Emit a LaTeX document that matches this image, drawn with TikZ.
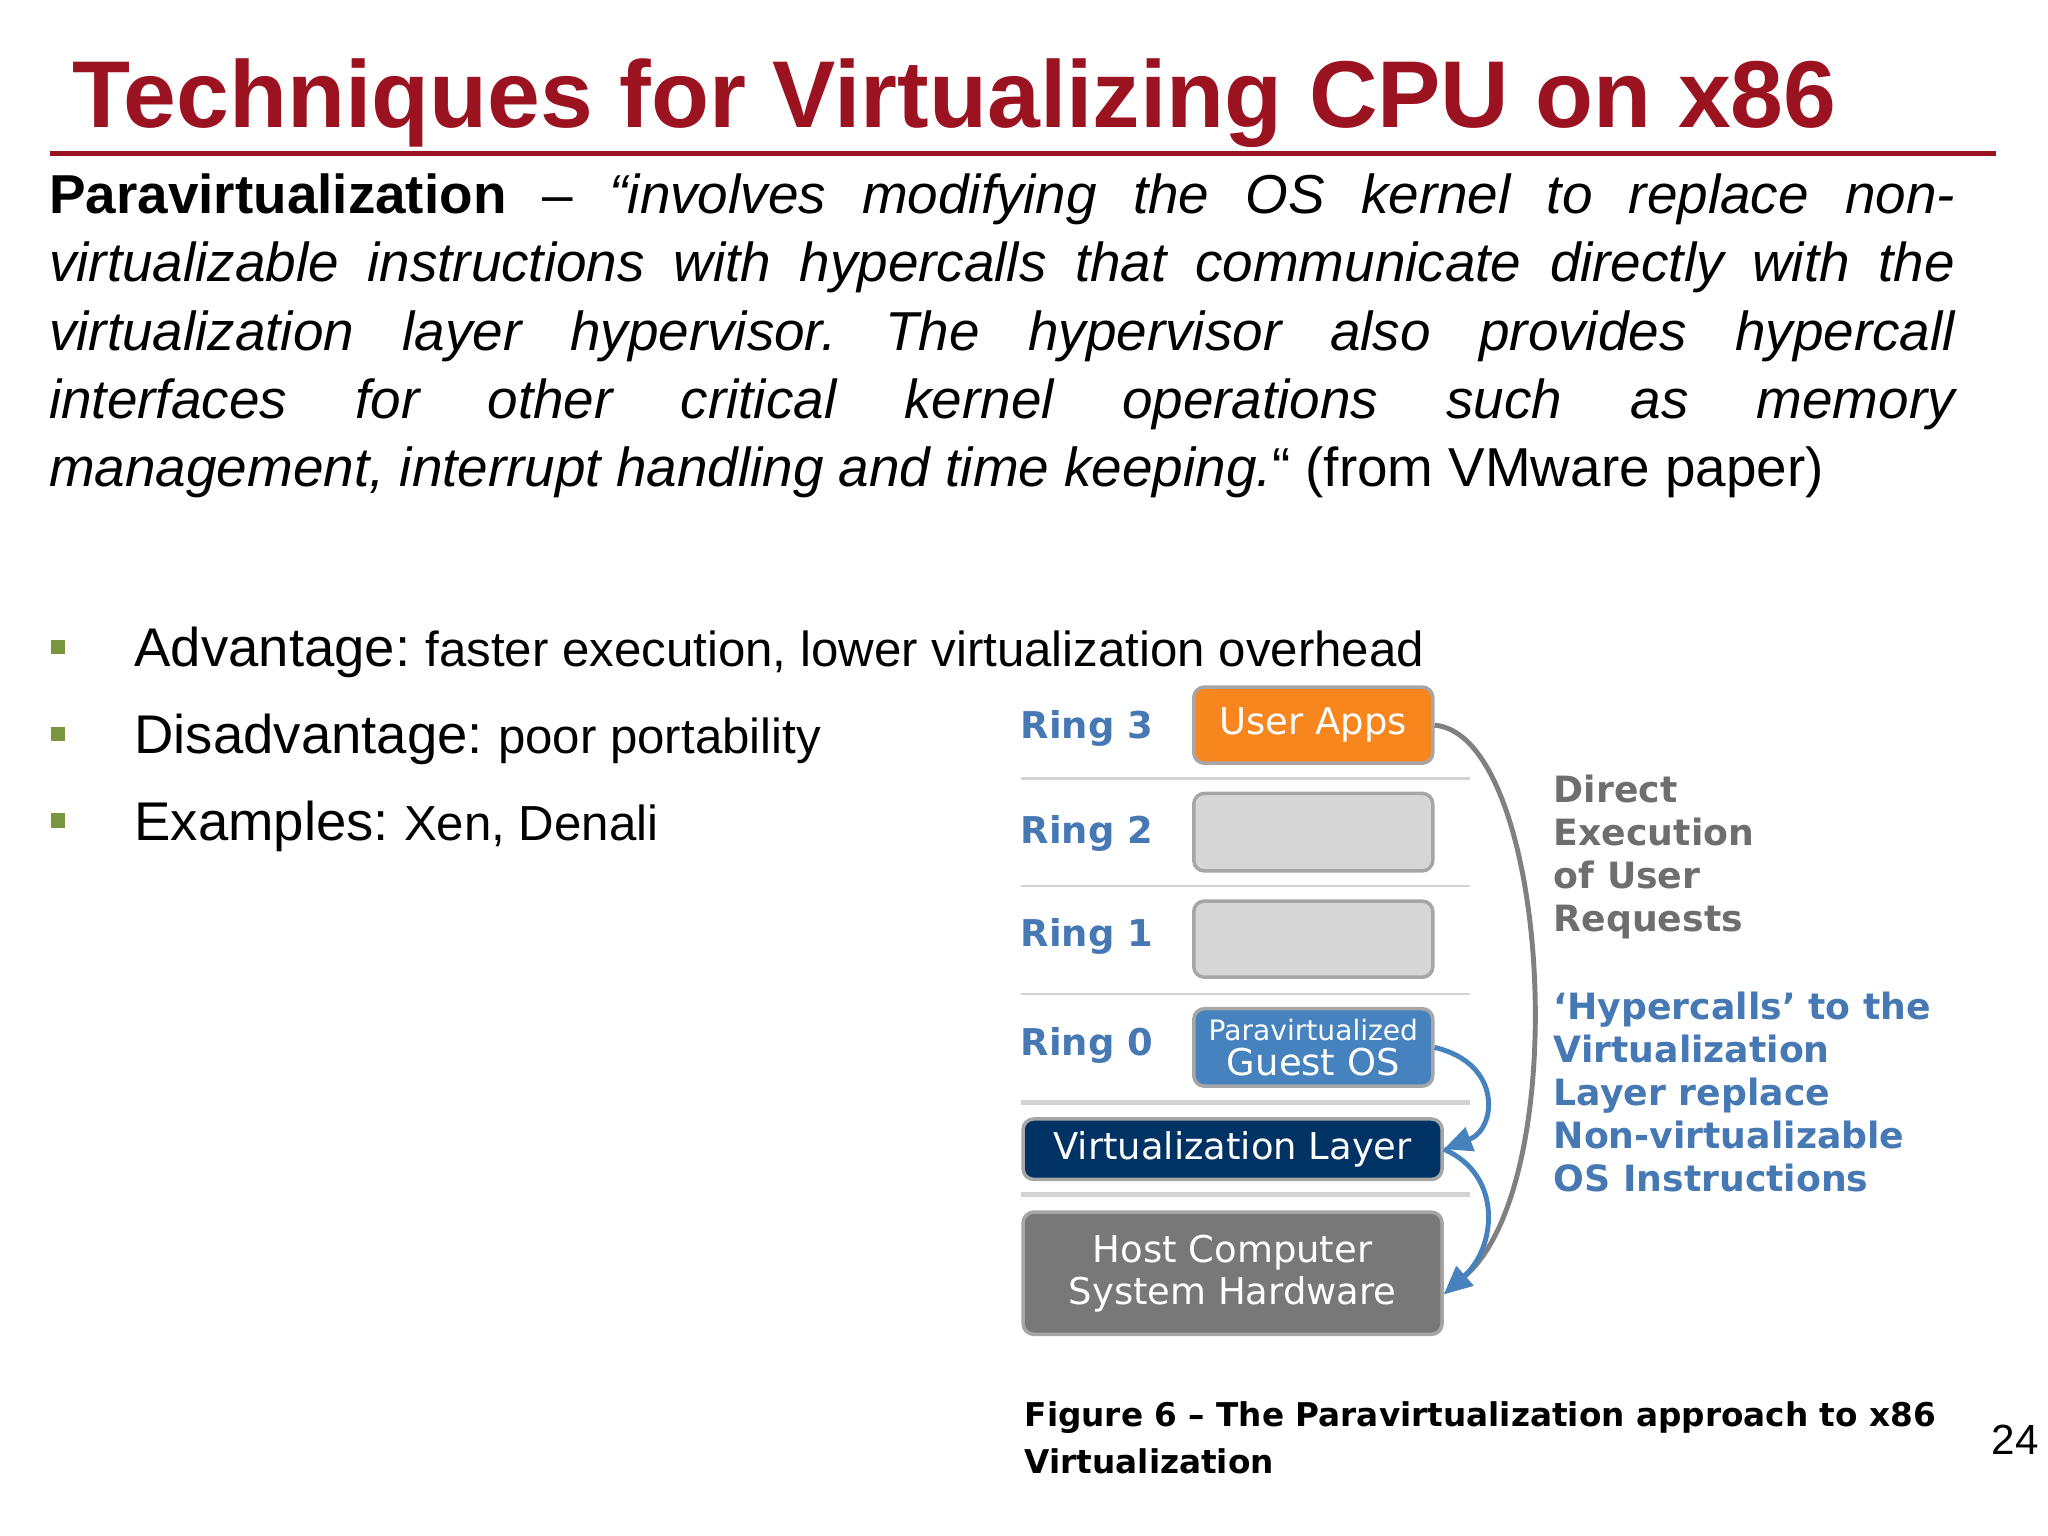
\documentclass[tikz,border=0pt]{standalone}
\usepackage{fontspec}
\setmainfont{Liberation Sans}
\newfontfamily\figfont{DejaVu Sans}
\usetikzlibrary{arrows.meta}
\frenchspacing
\definecolor{titlered}{RGB}{155,18,32}
\definecolor{ringblue}{RGB}{70,120,180}
\definecolor{uorange}{RGB}{247,134,30}
\definecolor{gbox}{RGB}{214,214,214}
\definecolor{gosblue}{RGB}{70,130,190}
\definecolor{navy}{RGB}{0,50,100}
\definecolor{hostgray}{RGB}{120,120,120}
\definecolor{txtgray}{RGB}{110,110,110}
\definecolor{bgreen}{RGB}{120,150,60}
\tikzset{
 ring/.style={font=\figfont\bfseries\fontsize{10.5}{12}\selectfont, text=ringblue},
 rbox/.style={draw=gray!70, line width=1pt, rounded corners=3pt, anchor=north west, inner sep=0pt},
 sep/.style={draw=gray!35, line width=0.6pt},
 bul/.style={fill=bgreen, minimum size=4pt, inner sep=0pt},
 btext/.style={anchor=base west, font=\fontsize{15.5}{19}\selectfont},
 garrow/.style={-{Triangle[width=7pt,length=8pt,fill=#1]}, draw=#1, line width=1.4pt}
}
\begin{document}
\begin{tikzpicture}[x=0.01313cm,y=-0.01313cm]
\useasboundingbox (0,0) rectangle (1560,1170);
% title
\node[anchor=base west, inner sep=0pt, font=\bfseries\fontsize{27}{32}\selectfont, text=titlered] (title) at (55,97) {Techniques for Virtualizing CPU on x86};
\draw[titlered, line width=1.3pt] (38,117) -- (1520,117);
% paragraph
\node[anchor=north west, inner sep=0pt, text width=542pt, font=\fontsize{15.6}{19.4}\selectfont, align=justify] (para) at (37,132) {\textbf{Paravirtualization} -- \textit{“involves modifying the OS kernel to replace non-\linebreak virtualizable instructions with hypercalls that communicate directly with the\linebreak virtualization layer hypervisor. The hypervisor also provides hypercall\linebreak interfaces for other critical kernel operations such as memory\linebreak management, interrupt handling and time keeping.}“ (from VMware paper)};
% bullets
\node[bul] (b1) at (44,493) {};
\node[bul] (b2) at (44,559) {};
\node[bul] (b3) at (44,625) {};
\node[btext] (t1) at (93,508) {Advantage: {\fontsize{14}{17}\selectfont faster execution, lower virtualization overhead}};
\node[btext] (t2) at (93,574) {Disadvantage: {\fontsize{14}{17}\selectfont poor portability}};
\node[btext] (t3) at (93,640) {Examples: {\fontsize{14}{17}\selectfont Xen, Denali}};
% figure
\node[ring] (r3) at (828,555) {Ring 3};
\node[ring] (r2) at (828,635) {Ring 2};
\node[ring] (r1) at (828,713) {Ring 1};
\node[ring] (r0) at (828,796) {Ring 0};
\node[rbox, fill=uorange, minimum width=182*0.3735pt, minimum height=58*0.3735pt, text=white, font=\figfont\fontsize{10.5}{12}\selectfont] (ua) at (908,522) {User Apps};
\node[rbox, fill=gbox, minimum width=182*0.3735pt, minimum height=59*0.3735pt] (g2) at (908,603) {};
\node[rbox, fill=gbox, minimum width=182*0.3735pt, minimum height=58*0.3735pt] (g1) at (908,685) {};
\node[rbox, fill=gosblue, minimum width=182*0.3735pt, minimum height=59*0.3735pt, text=white, align=center, font=\figfont\fontsize{10.5}{10}\selectfont] (gos) at (908,767) {{\fontsize{8}{9}\selectfont Paravirtualized}\\Guest OS};
\draw[sep] (778,593) -- (1120,593);
\draw[sep] (778,675) -- (1120,675);
\draw[sep] (778,757) -- (1120,757);
\draw[gray!35, line width=1.3pt] (778,840) -- (1120,840);
\draw[gray!35, line width=1.3pt] (778,910) -- (1120,910);
\node[rbox, fill=navy, minimum width=319*0.3735pt, minimum height=46*0.3735pt, text=white, font=\figfont\fontsize{10.5}{12}\selectfont] (vl) at (778,851) {Virtualization Layer};
\node[rbox, fill=hostgray, minimum width=319*0.3735pt, minimum height=93*0.3735pt, text=white, align=center, font=\figfont\fontsize{10.5}{12}\selectfont] (host) at (778,922) {Host Computer\\System Hardware};
\draw[garrow=gray] (ua.east) .. controls (1180,560) and (1200,900) .. ([yshift=-6pt]host.east);
\draw[garrow=gosblue] (gos.east) .. controls (1145,810) and (1140,860) .. (vl.east);
\draw[garrow=gosblue] (vl.east) .. controls (1145,895) and (1140,950) .. ([yshift=-6pt]host.east);
\node[anchor=north west, inner sep=0pt, align=left, text=txtgray, font=\figfont\bfseries\fontsize{10.3}{12.2}\selectfont] (de) at (1183,590) {Direct\\Execution\\of User\\Requests};
\node[anchor=north west, inner sep=0pt, align=left, text=ringblue, font=\figfont\bfseries\fontsize{10.3}{12.2}\selectfont] (hc) at (1183,755) {‘Hypercalls’ to the\\Virtualization\\Layer replace\\Non-virtualizable\\OS Instructions};
\node[anchor=north west, inner sep=0pt, align=left, font=\figfont\bfseries\fontsize{9.3}{13.3}\selectfont] (cap) at (780,1067) {Figure 6 – The Paravirtualization approach to x86\\Virtualization};
\node[anchor=base, font=\fontsize{12}{14}\selectfont] (pg) at (1535,1108) {24};
\end{tikzpicture}
\end{document}
